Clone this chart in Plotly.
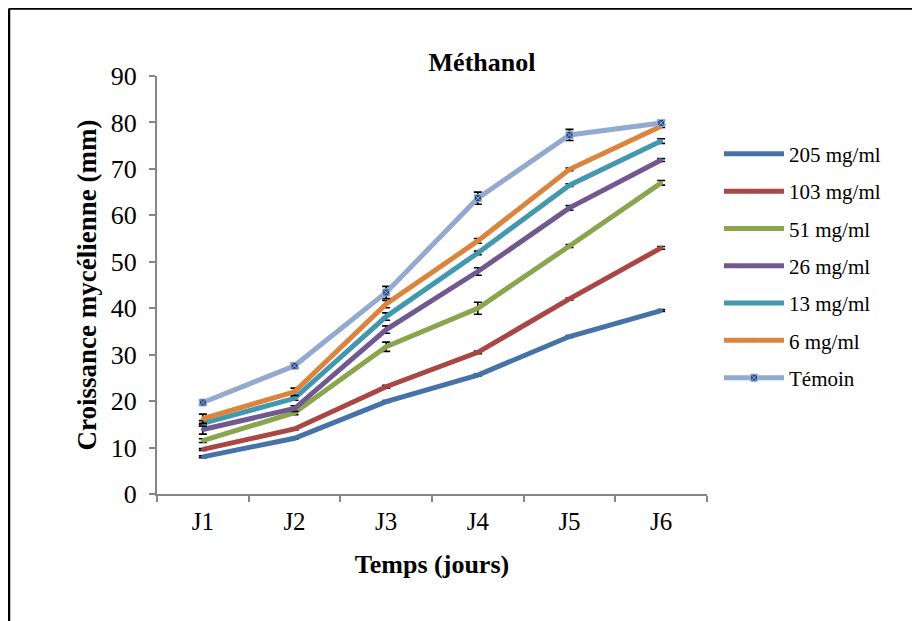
import plotly.graph_objects as go

days = ["J1", "J2", "J3", "J4", "J5", "J6"]
series_names = ["205 mg/ml", "103 mg/ml", "51 mg/ml", "26 mg/ml", "13 mg/ml", "6 mg/ml", "Témoin"]
v205 = [8.0, 12.0, 19.9, 25.6, 33.9, 39.5]
v103 = [9.6, 14.0, 23.1, 30.5, 42.0, 53.0]
v51 = [11.5, 17.5, 31.7, 40.0, 53.4, 67.0]
v26 = [13.9, 18.4, 35.4, 47.9, 61.6, 71.9]
v13 = [15.2, 20.6, 38.2, 51.9, 66.5, 76.0]
v6 = [16.2, 22.0, 40.9, 54.5, 69.9, 79.2]
vtem = [19.7, 27.6, 43.4, 63.7, 77.3, 79.9]
e205 = [0.2, 0.2, 0.2, 0.2, 0.2, 0.2]
e103 = [0.2, 0.2, 0.3, 0.3, 0.2, 0.3]
e51 = [0.4, 0.4, 1.0, 1.3, 0.3, 0.5]
e26 = [1.0, 0.6, 0.8, 0.8, 0.5, 0.3]
e13 = [0.6, 0.4, 0.8, 0.4, 0.3, 0.5]
e6 = [1.0, 0.8, 0.8, 0.5, 0.3, 0.3]
etem = [0.5, 0.5, 1.3, 1.3, 1.2, 0.5]
colors = ["#4572A7", "#AA4643", "#89A54E", "#71588F", "#4198AF", "#DB843D", "#93A9CF"]
y_ticks = [0, 10, 20, 30, 40, 50, 60, 70, 80, 90]

values = [v205, v103, v51, v26, v13, v6, vtem]
errors = [e205, e103, e51, e26, e13, e6, etem]

fig = go.Figure()
for i, (name, vals, errs, col) in enumerate(zip(series_names, values, errors, colors)):
    is_tem = name == "Témoin"
    fig.add_trace(go.Scatter(
        x=days, y=vals, name=name, mode="lines+markers",
        line=dict(color=col, width=5),
        marker=dict(
            symbol="square-x" if is_tem else "circle",
            size=7 if is_tem else 3,
            color="#1F497D" if is_tem else col,
            line=dict(color="#9BB0D8" if is_tem else col, width=1),
        ),
        error_y=dict(type="data", array=errs, visible=True, color="black",
                     thickness=1.6, width=4),
        legendgroup="g%d" % i,
    ))

font_family = "Liberation Serif, Times New Roman, serif"
# the page adds an 8px body margin; figure coordinates below account for it
W, H = 912, 613
L, R, T, B = 149, 213, 68, 127
PW, PH = W - L - R, H - T - B

fig.update_layout(
    width=W, height=H,
    margin=dict(l=L, r=R, t=T, b=B),
    paper_bgcolor="white", plot_bgcolor="white",
    font=dict(family=font_family, color="black"),
    title=dict(text="<b>Méthanol</b>", x=(474 - L) / PW, xref="paper", xanchor="center",
               y=1 - 54 / H, yanchor="middle", font=dict(size=26, family=font_family)),
    showlegend=True,
    legend=dict(x=(711 - L) / PW, y=0.862, xanchor="left", yanchor="top",
                font=dict(size=21, family=font_family),
                traceorder="grouped", tracegroupgap=7, itemwidth=60,
                bgcolor="rgba(0,0,0,0)"),
    xaxis=dict(
        type="category", categoryorder="array", categoryarray=days,
        range=[-0.5, 5.5],
        showline=True, linecolor="#868686", linewidth=2,
        ticks="outside", ticklen=6, tickcolor="#868686", tickwidth=2,
        tickson="boundaries", showgrid=False, zeroline=False,
        ticklabelstandoff=4,
        tickfont=dict(size=25, family=font_family),
        title=dict(text="<b>Temps (jours)</b>", font=dict(size=26, family=font_family), standoff=21),
    ),
    yaxis=dict(
        range=[0, 90], tickvals=y_ticks,
        showline=True, linecolor="#868686", linewidth=2,
        ticks="outside", ticklen=6, tickcolor="#868686", tickwidth=2,
        showgrid=False, zeroline=False,
        ticklabelstandoff=7,
        tickfont=dict(size=26, family=font_family),
        title=dict(text="<b>Croissance mycélienne (mm)</b>", font=dict(size=27, family=font_family), standoff=6),
    ),
)

# outer frame (left and top edges visible in the reference)
fx = (1 - L) / PW
fy = (PH + T - 0.5) / PH
fig.add_shape(type="line", xref="paper", yref="paper", x0=fx, x1=fx, y0=-1, y1=fy,
              line=dict(color="black", width=2.5))
fig.add_shape(type="line", xref="paper", yref="paper", x0=fx, x1=3, y0=fy, y1=fy,
              line=dict(color="black", width=2.5))

fig.write_html("out.html")
